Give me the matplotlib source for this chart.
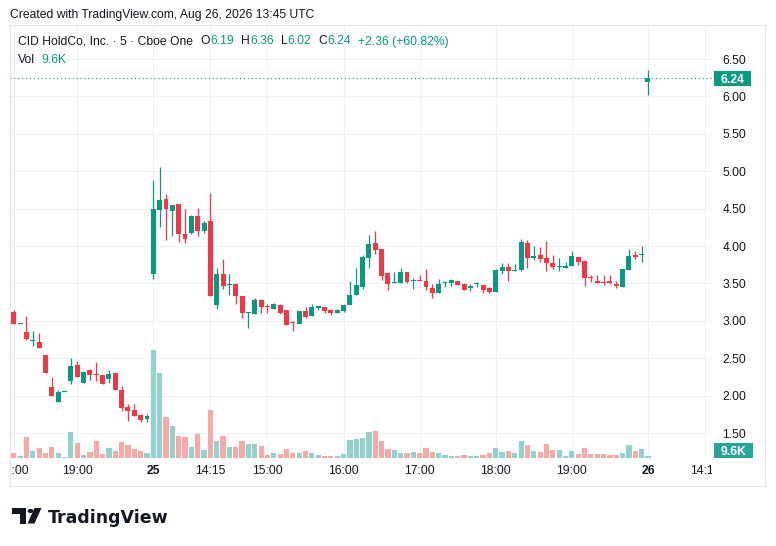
import numpy as np
import matplotlib
matplotlib.use("Agg")
import matplotlib.pyplot as plt
from matplotlib.patches import Rectangle, Polygon, Circle
from matplotlib.transforms import Bbox, TransformedBbox, blended_transform_factory

W, H = 776, 546
GREEN = "#089981"
RED = "#f23645"
VGREEN = "#92d2cc"
VRED = "#f7a9a8"
TEXT = "#131722"
GRID = "#f0f1f4"

# 5-minute bars, CID HoldCo (Cboe One)
opens = [3.12, 2.955, 2.85, 2.73, 2.72, 2.54, 2.12, 1.915, 2.055, 2.20,
         2.41, 2.165, 2.34, 2.285, 2.27, 2.22, 2.30, 2.07, 1.85, 1.81,
         1.74, 1.69, 3.62, 4.48, 4.63, 4.465, 4.567, 4.165, 4.17, 4.40,
         4.196, 4.34, 3.205, 3.63, 3.48, 3.495, 3.326, 3.098, 3.094, 3.28,
         3.20, 3.16, 3.215, 3.14, 2.98, 2.96, 3.134, 3.07, 3.165, 3.19,
         3.15, 3.10, 3.138, 3.205, 3.34, 3.455, 3.844, 4.04, 3.96, 3.643,
         3.505, 3.51, 3.647, 3.535, 3.545, 3.53, 3.437, 3.375, 3.51, 3.51,
         3.53, 3.49, 3.433, 3.49, 3.477, 3.437, 3.39, 3.67, 3.714, 3.67,
         3.676, 4.044, 3.836, 3.884, 3.836, 3.778, 3.716, 3.702, 3.729, 3.858,
         3.796, 3.591, 3.538, 3.511, 3.538, 3.498, 3.458, 3.676, 3.884, 3.876,
         6.19]
highs = [3.15, 2.955, 3.07, 2.86, 2.84, 2.54, 2.25, 2.07, 2.055, 2.50,
         2.465, 2.32, 2.355, 2.45, 2.27, 2.345, 2.30, 2.13, 1.885, 1.885,
         1.76, 1.75, 4.88, 5.05, 4.70, 4.555, 4.567, 4.49, 4.42, 4.513,
         4.34, 4.714, 3.71, 3.83, 3.62, 3.51, 3.326, 3.12, 3.31, 3.295,
         3.22, 3.24, 3.225, 3.14, 3.00, 3.13, 3.18, 3.23, 3.20, 3.19,
         3.16, 3.16, 3.22, 3.536, 3.70, 3.875, 4.147, 4.20, 3.96, 3.643,
         3.656, 3.71, 3.647, 3.567, 3.61, 3.69, 3.487, 3.554, 3.536, 3.558,
         3.53, 3.50, 3.486, 3.522, 3.477, 3.446, 3.69, 3.777, 3.777, 3.763,
         4.10, 4.076, 4.00, 3.987, 4.07, 3.884, 3.836, 3.78, 3.938, 3.858,
         3.813, 3.609, 3.609, 3.618, 3.618, 3.538, 3.698, 3.964, 3.929, 4.004,
         6.36]
lows = [2.955, 2.955, 2.75, 2.67, 2.635, 2.30, 2.00, 1.915, 2.055, 2.16,
        2.25, 2.165, 2.21, 2.20, 2.15, 2.165, 2.07, 1.795, 1.66, 1.73,
        1.65, 1.65, 3.555, 4.26, 4.075, 4.14, 4.06, 4.035, 4.165, 4.13,
        4.18, 3.326, 3.16, 3.43, 3.35, 3.23, 3.04, 2.906, 3.085, 3.107,
        3.10, 3.16, 3.094, 2.946, 2.87, 2.96, 3.04, 3.07, 3.147, 3.10,
        3.08, 3.098, 3.115, 3.205, 3.34, 3.42, 3.71, 3.90, 3.545, 3.41,
        3.505, 3.51, 3.50, 3.43, 3.536, 3.41, 3.308, 3.375, 3.455, 3.47,
        3.473, 3.41, 3.40, 3.455, 3.375, 3.366, 3.39, 3.62, 3.53, 3.67,
        3.66, 3.70, 3.813, 3.782, 3.662, 3.693, 3.662, 3.702, 3.729, 3.747,
        3.462, 3.52, 3.502, 3.476, 3.493, 3.44, 3.458, 3.676, 3.827, 3.782,
        6.02]
closes = [2.955, 2.96, 2.755, 2.74, 2.635, 2.30, 2.00, 2.05, 2.06, 2.39,
          2.25, 2.32, 2.27, 2.27, 2.15, 2.29, 2.07, 1.835, 1.795, 1.73,
          1.675, 1.73, 4.50, 4.62, 4.50, 4.555, 4.156, 4.10, 4.40, 4.196,
          4.31, 3.326, 3.63, 3.46, 3.495, 3.326, 3.10, 3.11, 3.28, 3.18,
          3.19, 3.22, 3.107, 2.946, 2.965, 3.13, 3.05, 3.19, 3.20, 3.13,
          3.10, 3.147, 3.205, 3.348, 3.48, 3.857, 4.027, 3.946, 3.603, 3.487,
          3.51, 3.647, 3.522, 3.54, 3.536, 3.446, 3.366, 3.49, 3.518, 3.545,
          3.482, 3.41, 3.464, 3.495, 3.41, 3.38, 3.68, 3.714, 3.67, 3.68,
          4.05, 3.836, 3.871, 3.822, 3.769, 3.716, 3.729, 3.738, 3.871, 3.782,
          3.569, 3.573, 3.502, 3.502, 3.502, 3.462, 3.689, 3.871, 3.849, 3.88,
          6.24]
volumes_k = [19, 8, 83, 27, 39, 19, 43, 19, 4, 103,
             59, 11, 23, 67, 15, 39, 27, 63, 51, 35,
             27, 19, 431, 339, 164, 127, 87, 83, 43, 95,
             31, 191, 67, 87, 43, 43, 67, 55, 55, 47,
             11, 19, 15, 35, 19, 19, 27, 19, 11, 7,
             7, 7, 15, 71, 75, 79, 103, 107, 67, 35,
             31, 19, 19, 23, 19, 39, 23, 19, 11, 7,
             7, 11, 7, 7, 11, 19, 39, 23, 27, 19,
             67, 52, 28, 24, 56, 32, 32, 8, 28, 16,
             40, 16, 16, 16, 12, 12, 20, 52, 28, 36,
             9.6]

tick_pos = [0, 10, 22, 31, 40, 52, 64, 76, 88, 100, 109]
tick_labels = ["18:00", "19:00", "25", "14:15", "15:00", "16:00",
               "17:00", "18:00", "19:00", "26", "14:15"]
day_labels = {"25", "26"}
price_ticks = [1.5, 2.0, 2.5, 3.0, 3.5, 4.0, 4.5, 5.0, 5.5, 6.0, 6.5]

plt.rcParams["font.family"] = ["Liberation Sans", "DejaVu Sans"]


def fx(x):
    return x / W


def fy(y):
    return 1 - y / H


o = np.array(opens); h = np.array(highs); l = np.array(lows); c = np.array(closes)
v = np.array(volumes_k)
idx = np.arange(len(o))
up = c >= o

fig = plt.figure(figsize=(W / 100, H / 100), dpi=100)
fig.patch.set_facecolor("white")

# chart frame
fig.add_artist(Rectangle((fx(10), fy(486)), fx(755), 461 / H, transform=fig.transFigure,
                         fill=False, ec="#e0e3eb", lw=0.8))

rect = [fx(10), fy(458), fx(702), 433 / H]
ax_vol = fig.add_axes(rect)
ax = ax_vol.twinx()
for a in (ax_vol, ax):
    for s in a.spines.values():
        s.set_visible(False)

ax_vol.set_xlim(-0.6, 110.1)
ax_vol.set_ylim(0, 1732)
ax.set_ylim(1.166, 6.955)

# grid
ax_vol.set_axisbelow(True)
ax_vol.set_xticks(tick_pos)
ax_vol.set_xticklabels(tick_labels)
ax_vol.grid(axis="x", color=GRID, lw=0.8)
ax_vol.set_yticks([])
for p in price_ticks:
    ax_vol.plot([0, 1], [p, p], transform=ax.get_yaxis_transform(), color=GRID, lw=0.8, zorder=0.5)

# volume
ax_vol.bar(idx, v, width=0.82, color=np.where(up, VGREEN, VRED), lw=0, zorder=2)

# candles
cols = np.where(up, GREEN, RED)
ax.vlines(idx, l, h, colors=cols, lw=0.9, zorder=3)
body_lo = np.minimum(o, c)
body_h = np.maximum(np.abs(c - o), 0.0134)
ax.bar(idx, body_h, bottom=body_lo, width=0.78, color=cols, lw=0, zorder=4)

# last price line + label
last = closes[-1]
ax.axhline(last, color=GREEN, lw=0.8, ls=(0, (1, 2.5)), zorder=2.5)
bt = blended_transform_factory(fig.transFigure, ax.transData)
ax.add_patch(Rectangle((fx(714), last - 0.105), fx(37), 0.21, transform=bt,
                       color=GREEN, lw=0, clip_on=False, zorder=6))
ax.text(fx(732.5), last, f"{last:.2f}", transform=bt, color="white", fontsize=8.7,
        fontweight="bold", ha="center", va="center_baseline", zorder=7, clip_on=False)

# volume label
fig.add_artist(Rectangle((fx(714), fy(457.5)), fx(39), 15 / H, transform=fig.transFigure,
                         color="#26a69a", lw=0))
fig.text(fx(733.5), fy(450.2), "9.6K", color="white", fontsize=8.7, fontweight="bold",
         ha="center", va="center_baseline")

# ticks
ax.set_yticks(price_ticks)
ax.set_yticklabels([f"{p:.2f}" for p in price_ticks])
ax.tick_params(axis="y", length=0, pad=7.5, labelsize=8.7, labelcolor=TEXT)
ax_vol.tick_params(axis="x", length=0, pad=5, labelsize=8.7, labelcolor=TEXT)
clip = TransformedBbox(Bbox([[fx(10), 0], [fx(712), 1]]), fig.transFigure)
for lab in ax_vol.get_xticklabels():
    lab.set_clip_box(clip)
    lab.set_clip_on(True)
    if lab.get_text() in day_labels:
        lab.set_fontweight("bold")

# header
fig.text(fx(10), fy(15), "Created with TradingView.com, Aug 26, 2026 13:45 UTC",
         fontsize=8.7, color=TEXT, ha="left", va="center")


def chain(parts, x, y):
    prev = fig.text(fx(x), fy(y), parts[0][0], color=parts[0][1], fontsize=8.7,
                    ha="left", va="center")
    for s, col, gap in parts[1:]:
        prev = ax.annotate(s, xy=(1, 0), xycoords=prev, xytext=(gap, 0),
                           textcoords="offset pixels", color=col, fontsize=8.7,
                           ha="left", va="bottom", annotation_clip=False)


chain([("CID HoldCo, Inc. · 5 · Cboe One", TEXT),
       ("O", TEXT, 7), ("6.19", GREEN, 0.5),
       ("H", TEXT, 7), ("6.36", GREEN, 0.5),
       ("L", TEXT, 7), ("6.02", GREEN, 0.5),
       ("C", TEXT, 7), ("6.24", GREEN, 0.5),
       ("+2.36 (+60.82%)", GREEN, 7)], 18, 41.5)
chain([("Vol", TEXT), ("9.6K", GREEN, 6)], 18, 59.5)

# TradingView logo
tf = fig.transFigure
fig.add_artist(Polygon([(fx(12), fy(508)), (fx(26.5), fy(508)), (fx(26.5), fy(523.5)),
                        (fx(19.5), fy(523.5)), (fx(19.5), fy(514)), (fx(12), fy(514))],
                       closed=True, transform=tf, color="#131722", lw=0))
fig.add_artist(Circle((fx(30.5), fy(511)), 2.9 / W, transform=tf, color="#131722", lw=0))
fig.add_artist(Polygon([(fx(34.5), fy(508)), (fx(41.5), fy(508)), (fx(34.5), fy(523.5)),
                        (fx(27.5), fy(523.5))],
                       closed=True, transform=tf, color="#131722", lw=0))
fig.text(fx(48), fy(516), "TradingView", fontsize=12.5, fontweight="bold",
         family="DejaVu Sans", color="#131722", ha="left", va="center_baseline")

fig.savefig("out.png", dpi=100, facecolor="white")
